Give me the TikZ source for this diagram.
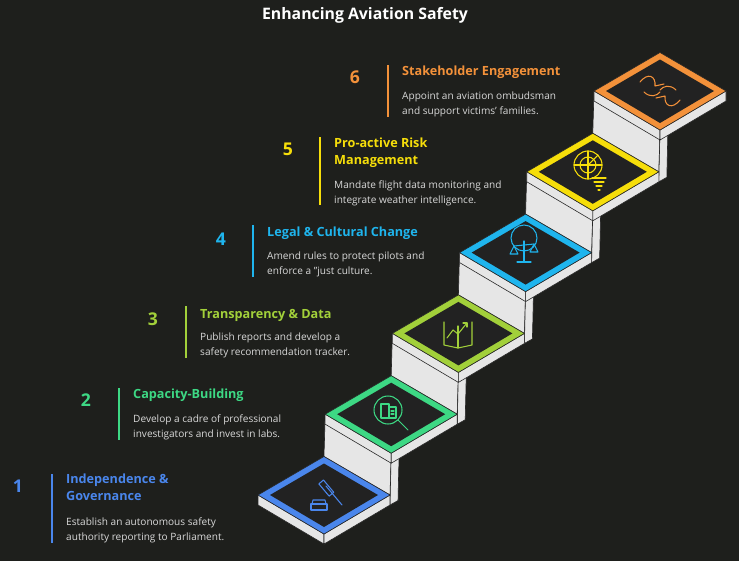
\documentclass[tikz,border=0pt]{standalone}
\usepackage{fontspec}
\setmainfont{Open Sans}
\definecolor{bgdark}{HTML}{1E1F1C}
\definecolor{tileink}{HTML}{222222}
\definecolor{wall}{HTML}{E6E6E6}
\definecolor{descgray}{HTML}{D8D8D8}
\definecolor{cOne}{HTML}{4A86EC}
\definecolor{cTwo}{HTML}{3DD884}
\definecolor{cThree}{HTML}{A2D03A}
\definecolor{cFour}{HTML}{1FB5EE}
\definecolor{cFive}{HTML}{F6DE0A}
\definecolor{cSix}{HTML}{F3913A}
\tikzset{
  face/.style={fill=wall, draw=black!85, line width=0.5pt, line join=round},
  stepnum/.style={anchor=center, font=\bfseries\fontsize{15}{15}\selectfont},
  steptitle/.style={anchor=north west, font=\bfseries\fontsize{10.8}{14.5}\selectfont, align=left, inner sep=0pt},
  stepdesc/.style={anchor=north west, text=descgray, font=\fontsize{8.6}{12.3}\selectfont, align=left, inner sep=0pt},
  icon/.style={line width=0.9pt, line cap=round, line join=round}
}
\begin{document}
\begin{tikzpicture}[x=0.03cm, y=-0.03cm]
  \fill[bgdark] (0,0) rectangle (739,561);
  \useasboundingbox (0,0) rectangle (739,561);

  \node[text=white, font=\bfseries\fontsize{13.5}{13.5}\selectfont] (title) at (365,15) {Enhancing Aviation Safety};

  % the staircase, back to front
  \foreach \k/\col in {5/cSix,4/cFive,3/cFour,2/cThree,1/cTwo,0/cOne}{
    \pgfmathsetmacro{\cx}{324+67.2*\k}
    \pgfmathsetmacro{\cy}{495-80.8*\k}
    \pgfmathsetmacro{\px}{\cx-67.2}
    \pgfmathsetmacro{\py}{\cy+80.8}
    \ifnum\k>0
      \draw[face] (\cx-66,\cy) -- (\cx,\cy+39) -- (\px+66,\py) -- (\px,\py-38.5) -- cycle;
      \draw[face] (\cx,\cy+39) -- (\cx+8,\cy+34.5) -- (\px+74,\py+5.5) -- (\px+66,\py+10) -- cycle;
    \fi
    \draw[face] (\cx-66,\cy) -- (\cx,\cy+39) -- (\cx,\cy+49) -- (\cx-66,\cy+10) -- cycle;
    \draw[face] (\cx,\cy+39) -- (\cx+66,\cy) -- (\cx+66,\cy+10) -- (\cx,\cy+49) -- cycle;
    \draw[fill=\col, draw=black!85, line width=0.5pt] (\cx-66,\cy) -- (\cx,\cy-38.5) -- (\cx+66,\cy) -- (\cx,\cy+39) -- cycle;
    \fill[tileink] (\cx-54,\cy) -- (\cx,\cy-31.5) -- (\cx+54,\cy) -- (\cx,\cy+32) -- cycle;
  }

  % icons
  \begin{scope}[icon, draw=cOne]
    \draw[rotate around={-50:(324,490)}] (316,484) rectangle (332,490);
    \draw (326,486) -- (342,505);
    \draw (311,504) rectangle (327,510);
    \draw (313,500) -- (325,500) -- (326,504) -- (312,504) -- cycle;
  \end{scope}
  \begin{scope}[icon, draw=cTwo]
    \draw (388,410) circle (14);
    \draw (398,420) -- (408,430);
    \draw (381,404) rectangle (389,418) (389,407) rectangle (396,418);
    \draw (391,411) -- (394,411) (391,414) -- (394,414);
  \end{scope}
  \begin{scope}[icon, draw=cThree]
    \draw (444,322) -- (444,345) -- (458,348) -- (472,345) -- (472,322);
    \draw (458,326) -- (458,348);
    \draw (447,338) -- (453,330) -- (458,334) -- (467,323);
    \draw (463,323) -- (467,323) -- (467,327);
  \end{scope}
  \begin{scope}[icon, draw=cFour]
    \draw (524,241) -- (524,262) (517,262) -- (531,262);
    \draw (514,246) -- (534,244);
    \draw (514,246) -- (510,254) -- (518,254) -- cycle;
    \draw (534,244) -- (530,252) -- (538,252) -- cycle;
    \draw (524,238) circle (13);
  \end{scope}
  \begin{scope}[icon, draw=cFive]
    \draw (588,165) circle (14) (588,165) circle (8);
    \draw (574,165) -- (602,165) (588,151) -- (588,179);
    \draw (588,165) -- (598,155);
    \draw (592,178) -- (606,178) (594,182) -- (604,182) (596,186) -- (602,186) (598,190) -- (600,190);
  \end{scope}
  \begin{scope}[icon, draw=cSix]
    \draw (640,82) .. controls (648,72) and (656,76) .. (655,86) -- (664,84);
    \draw (644,92) .. controls (650,98) and (657,96) .. (660,92);
    \draw (680,100) .. controls (672,110) and (664,106) .. (665,96) -- (656,98);
    \draw (676,90) .. controls (670,84) and (663,86) .. (660,90);
  \end{scope}

  % labels
  \node[stepnum, text=cOne] (num1) at (18,486) {1};
  \node[stepnum, text=cTwo] (num2) at (86,400) {2};
  \node[stepnum, text=cThree] (num3) at (153,319) {3};
  \node[stepnum, text=cFour] (num4) at (221,239) {4};
  \node[stepnum, text=cFive] (num5) at (288,149) {5};
  \node[stepnum, text=cSix] (num6) at (355,77) {6};

  \draw[cOne, line width=1.6pt] (52,474) -- (52,543);
  \draw[cTwo, line width=1.6pt] (119,388) -- (119,440);
  \draw[cThree, line width=1.6pt] (186,306) -- (186,358);
  \draw[cFour, line width=1.6pt] (253,225) -- (253,277);
  \draw[cFive, line width=1.6pt] (320,137) -- (320,205);
  \draw[cSix, line width=1.6pt] (388,65) -- (388,117);

  \node[steptitle, text=cOne] (head1) at (66,474) {Independence \&\\Governance};
  \node[stepdesc] (desc1) at (66,518) {Establish an autonomous safety\\authority reporting to Parliament.};
  \node[steptitle, text=cTwo] (head2) at (133,389) {Capacity-Building};
  \node[stepdesc] (desc2) at (133,415) {Develop a cadre of professional\\investigators and invest in labs.};
  \node[steptitle, text=cThree] (head3) at (200,309) {Transparency \& Data};
  \node[stepdesc] (desc3) at (200,333) {Publish reports and develop a\\safety recommendation tracker.};
  \node[steptitle, text=cFour] (head4) at (267,227) {Legal \& Cultural Change};
  \node[stepdesc] (desc4) at (267,252) {Amend rules to protect pilots and\\enforce a "just culture.};
  \node[steptitle, text=cFive] (head5) at (334,138) {Pro-active Risk\\Management};
  \node[stepdesc] (desc5) at (334,181) {Mandate flight data monitoring and\\integrate weather intelligence.};
  \node[steptitle, text=cSix] (head6) at (402,66) {Stakeholder Engagement};
  \node[stepdesc] (desc6) at (402,92) {Appoint an aviation ombudsman\\and support victims' families.};
\end{tikzpicture}
\end{document}
